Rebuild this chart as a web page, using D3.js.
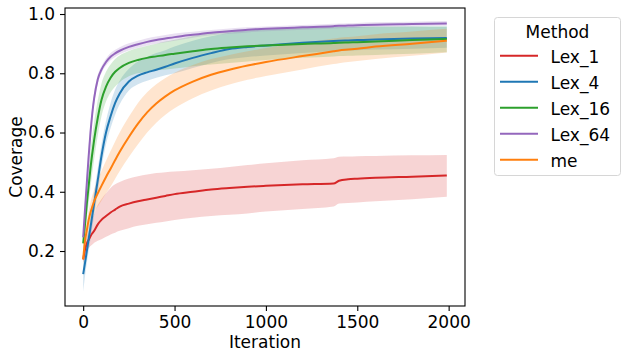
<!DOCTYPE html>
<html>
<head>
<meta charset="utf-8">
<script src="https://cdn.jsdelivr.net/npm/d3@7"></script>
<style>
  body { margin: 0; background: #fff; }
  text { font-family: "DejaVu Sans", sans-serif; }
</style>
</head>
<body>
<div id="my_dataviz_coverage"></div>
<script>
// data
const iterations = [0,10,20,30,40,50,60,80,100,125,150,175,200,250,300,350,400,450,500,600,700,800,900,1000,1200,1370,1400,1450,1500,1600,1800,1990];

const methods = ["Lex_1", "Lex_4", "Lex_16", "Lex_64", "me"];
const colors = ["#d62728", "#1f77b4", "#2ca02c", "#9467bd", "#ff7f0e"];

const lex1_mean = [0.172,0.205,0.225,0.238,0.25,0.26,0.268,0.29,0.305,0.318,0.33,0.34,0.35,0.36,0.368,0.374,0.38,0.386,0.392,0.40,0.408,0.413,0.417,0.42,0.425,0.428,0.437,0.442,0.444,0.447,0.451,0.455];
const lex1_lo   = [0.16,0.18,0.2,0.21,0.217,0.222,0.228,0.235,0.24,0.248,0.256,0.262,0.268,0.277,0.285,0.29,0.295,0.30,0.305,0.312,0.318,0.322,0.327,0.333,0.342,0.35,0.36,0.362,0.364,0.368,0.375,0.383];
const lex1_hi   = [0.185,0.225,0.25,0.265,0.29,0.31,0.325,0.355,0.375,0.395,0.413,0.425,0.433,0.445,0.452,0.458,0.463,0.466,0.468,0.473,0.478,0.484,0.49,0.496,0.506,0.513,0.518,0.519,0.52,0.521,0.523,0.524];

const lex4_mean = [0.122,0.16,0.20,0.24,0.28,0.32,0.36,0.44,0.52,0.60,0.655,0.70,0.732,0.772,0.792,0.803,0.812,0.822,0.833,0.852,0.868,0.882,0.889,0.894,0.903,0.909,0.910,0.911,0.912,0.914,0.917,0.919];
const lex4_lo   = [0.063,0.115,0.16,0.20,0.24,0.28,0.32,0.40,0.48,0.56,0.615,0.66,0.695,0.742,0.763,0.775,0.785,0.793,0.80,0.818,0.835,0.848,0.855,0.86,0.868,0.875,0.876,0.877,0.878,0.88,0.883,0.886];
const lex4_hi   = [0.18,0.205,0.24,0.28,0.32,0.36,0.40,0.48,0.56,0.64,0.70,0.745,0.775,0.815,0.84,0.855,0.868,0.878,0.89,0.91,0.925,0.937,0.944,0.948,0.953,0.956,0.956,0.957,0.957,0.957,0.958,0.958];

const lex16_mean = [0.226,0.29,0.36,0.42,0.48,0.53,0.575,0.65,0.71,0.755,0.785,0.805,0.818,0.835,0.845,0.852,0.857,0.862,0.866,0.874,0.882,0.887,0.891,0.894,0.899,0.902,0.903,0.904,0.905,0.907,0.912,0.916];
const lex16_lo   = [0.205,0.255,0.31,0.36,0.415,0.465,0.51,0.59,0.655,0.705,0.735,0.755,0.77,0.79,0.80,0.805,0.81,0.813,0.816,0.824,0.83,0.835,0.84,0.845,0.852,0.857,0.858,0.859,0.86,0.862,0.866,0.871];
const lex16_hi   = [0.25,0.33,0.41,0.48,0.54,0.59,0.635,0.71,0.765,0.805,0.83,0.848,0.86,0.875,0.885,0.893,0.90,0.907,0.913,0.926,0.937,0.945,0.949,0.952,0.955,0.957,0.957,0.957,0.958,0.958,0.958,0.958];

const lex64_mean = [0.246,0.34,0.43,0.52,0.60,0.665,0.715,0.78,0.812,0.838,0.856,0.867,0.876,0.889,0.898,0.906,0.912,0.917,0.922,0.930,0.937,0.942,0.947,0.950,0.955,0.959,0.960,0.961,0.962,0.964,0.966,0.968];
const lex64_lo   = [0.232,0.31,0.395,0.485,0.57,0.64,0.695,0.765,0.80,0.826,0.844,0.855,0.864,0.877,0.886,0.894,0.900,0.905,0.910,0.920,0.928,0.933,0.938,0.942,0.947,0.951,0.952,0.953,0.954,0.956,0.958,0.960];
const lex64_hi   = [0.262,0.37,0.465,0.555,0.63,0.69,0.735,0.795,0.824,0.85,0.868,0.879,0.888,0.901,0.910,0.918,0.924,0.929,0.934,0.940,0.946,0.951,0.955,0.958,0.963,0.967,0.968,0.969,0.970,0.972,0.974,0.976];

const me_mean = [0.172,0.235,0.27,0.305,0.33,0.35,0.368,0.395,0.42,0.45,0.478,0.507,0.535,0.585,0.63,0.668,0.698,0.722,0.742,0.772,0.795,0.812,0.826,0.838,0.858,0.874,0.877,0.88,0.883,0.89,0.90,0.91];
const me_lo   = [0.152,0.21,0.24,0.273,0.295,0.312,0.328,0.35,0.37,0.395,0.418,0.444,0.47,0.517,0.56,0.60,0.633,0.66,0.682,0.716,0.742,0.762,0.778,0.791,0.813,0.831,0.834,0.838,0.841,0.848,0.859,0.87];
const me_hi   = [0.192,0.26,0.30,0.337,0.365,0.388,0.408,0.44,0.47,0.505,0.538,0.57,0.60,0.653,0.70,0.736,0.763,0.784,0.802,0.828,0.848,0.862,0.874,0.885,0.903,0.917,0.92,0.922,0.925,0.932,0.941,0.95];

const xTicks = [0, 500, 1000, 1500, 2000];
const yTicks = [0.2, 0.4, 0.6, 0.8, 1.0];

function generate_svg_coverage(){
  const margin = {top: 8, right: 164, bottom: 53, left: 65};
  const width = 629 - margin.left - margin.right;
  const height = 359 - margin.top - margin.bottom;
  const fontSize = "17px";

  const svgRoot = d3.select("#my_dataviz_coverage")
    .append("svg")
      .attr("width", 629)
      .attr("height", 359);

  const svg = svgRoot.append("g")
      .attr("transform", `translate(${margin.left}, ${margin.top})`);

  const x = d3.scaleLinear()
    .domain([-99.5, 2089.5])
    .range([0, width]);

  const y = d3.scaleLinear()
    .domain([0.0144, 1.0203])
    .range([height, 0]);

  const series = [
    {name: methods[0], mean: lex1_mean, lo: lex1_lo, hi: lex1_hi},
    {name: methods[1], mean: lex4_mean, lo: lex4_lo, hi: lex4_hi},
    {name: methods[2], mean: lex16_mean, lo: lex16_lo, hi: lex16_hi},
    {name: methods[3], mean: lex64_mean, lo: lex64_lo, hi: lex64_hi},
    {name: methods[4], mean: me_mean, lo: me_lo, hi: me_hi}
  ].map(function(s, i){
    return {
      name: s.name,
      color: colors[i],
      values: iterations.map(function(it, j){
        return {time: it, value: s.mean[j], lo: s.lo[j], hi: s.hi[j]};
      })
    };
  });

  const area = d3.area()
    .curve(d3.curveMonotoneX)
    .x(d => x(d.time))
    .y0(d => y(d.lo))
    .y1(d => y(d.hi));

  const line = d3.line()
    .curve(d3.curveMonotoneX)
    .x(d => x(d.time))
    .y(d => y(d.value));

  // bands first, lines on top (like matplotlib zorder)
  svg.selectAll("myBands")
    .data(series)
    .join("path")
      .attr("d", d => area(d.values))
      .attr("fill", d => d.color)
      .attr("fill-opacity", 0.2)
      .attr("stroke", "none");

  svg.selectAll("myLines")
    .data(series)
    .join("path")
      .attr("d", d => line(d.values))
      .attr("stroke", d => d.color)
      .style("stroke-width", 2)
      .style("fill", "none");

  // axes
  const xAxis = svg.append("g")
    .attr("transform", `translate(0, ${height})`)
    .call(d3.axisBottom(x).tickValues(xTicks).tickSize(5).tickPadding(5).tickFormat(d3.format("d")));

  const yAxis = svg.append("g")
    .call(d3.axisLeft(y).tickValues(yTicks).tickSize(5).tickPadding(5).tickFormat(d3.format(".1f")));

  [xAxis, yAxis].forEach(function(a){
    a.select(".domain").remove();
    a.selectAll("line").attr("stroke", "#000").attr("stroke-width", 1.1);
    a.selectAll("text")
      .style("font-family", "DejaVu Sans")
      .style("font-size", fontSize)
      .attr("fill", "#000");
  });

  // frame
  svg.append("rect")
    .attr("x", 0)
    .attr("y", 0)
    .attr("width", width)
    .attr("height", height)
    .attr("fill", "none")
    .attr("stroke", "#000")
    .attr("stroke-width", 1.1);

  // axis labels
  svgRoot.append("text")
    .attr("x", margin.left + width / 2)
    .attr("y", 348)
    .style("text-anchor", "middle")
    .style("font-size", fontSize)
    .text("Iteration");

  svgRoot.append("text")
    .attr("transform", "translate(21.5, " + (margin.top + height / 2) + ") rotate(-90)")
    .style("text-anchor", "middle")
    .style("font-size", fontSize)
    .text("Coverage");

  // legend
  const legend = svgRoot.append("g");

  legend.append("rect")
    .attr("x", 494.5)
    .attr("y", 17.5)
    .attr("width", 126)
    .attr("height", 158)
    .attr("rx", 3)
    .attr("fill", "#fff")
    .attr("stroke", "#d6d6d6")
    .attr("stroke-width", 1);

  legend.append("text")
    .attr("x", 557.5)
    .attr("y", 38)
    .style("text-anchor", "middle")
    .style("font-size", fontSize)
    .text("Method");

  const items = legend.selectAll("myItems")
    .data(series)
    .join("g")
      .attr("transform", (d, i) => `translate(0, ${55.7 + i * 26})`);

  items.append("line")
    .attr("x1", 500)
    .attr("x2", 538)
    .attr("y1", 0)
    .attr("y2", 0)
    .attr("stroke", d => d.color)
    .style("stroke-width", 2);

  items.append("text")
    .attr("x", 550.5)
    .attr("y", 7)
    .style("font-size", fontSize)
    .text(d => d.name);
}

generate_svg_coverage();
</script>
</body>
</html>
